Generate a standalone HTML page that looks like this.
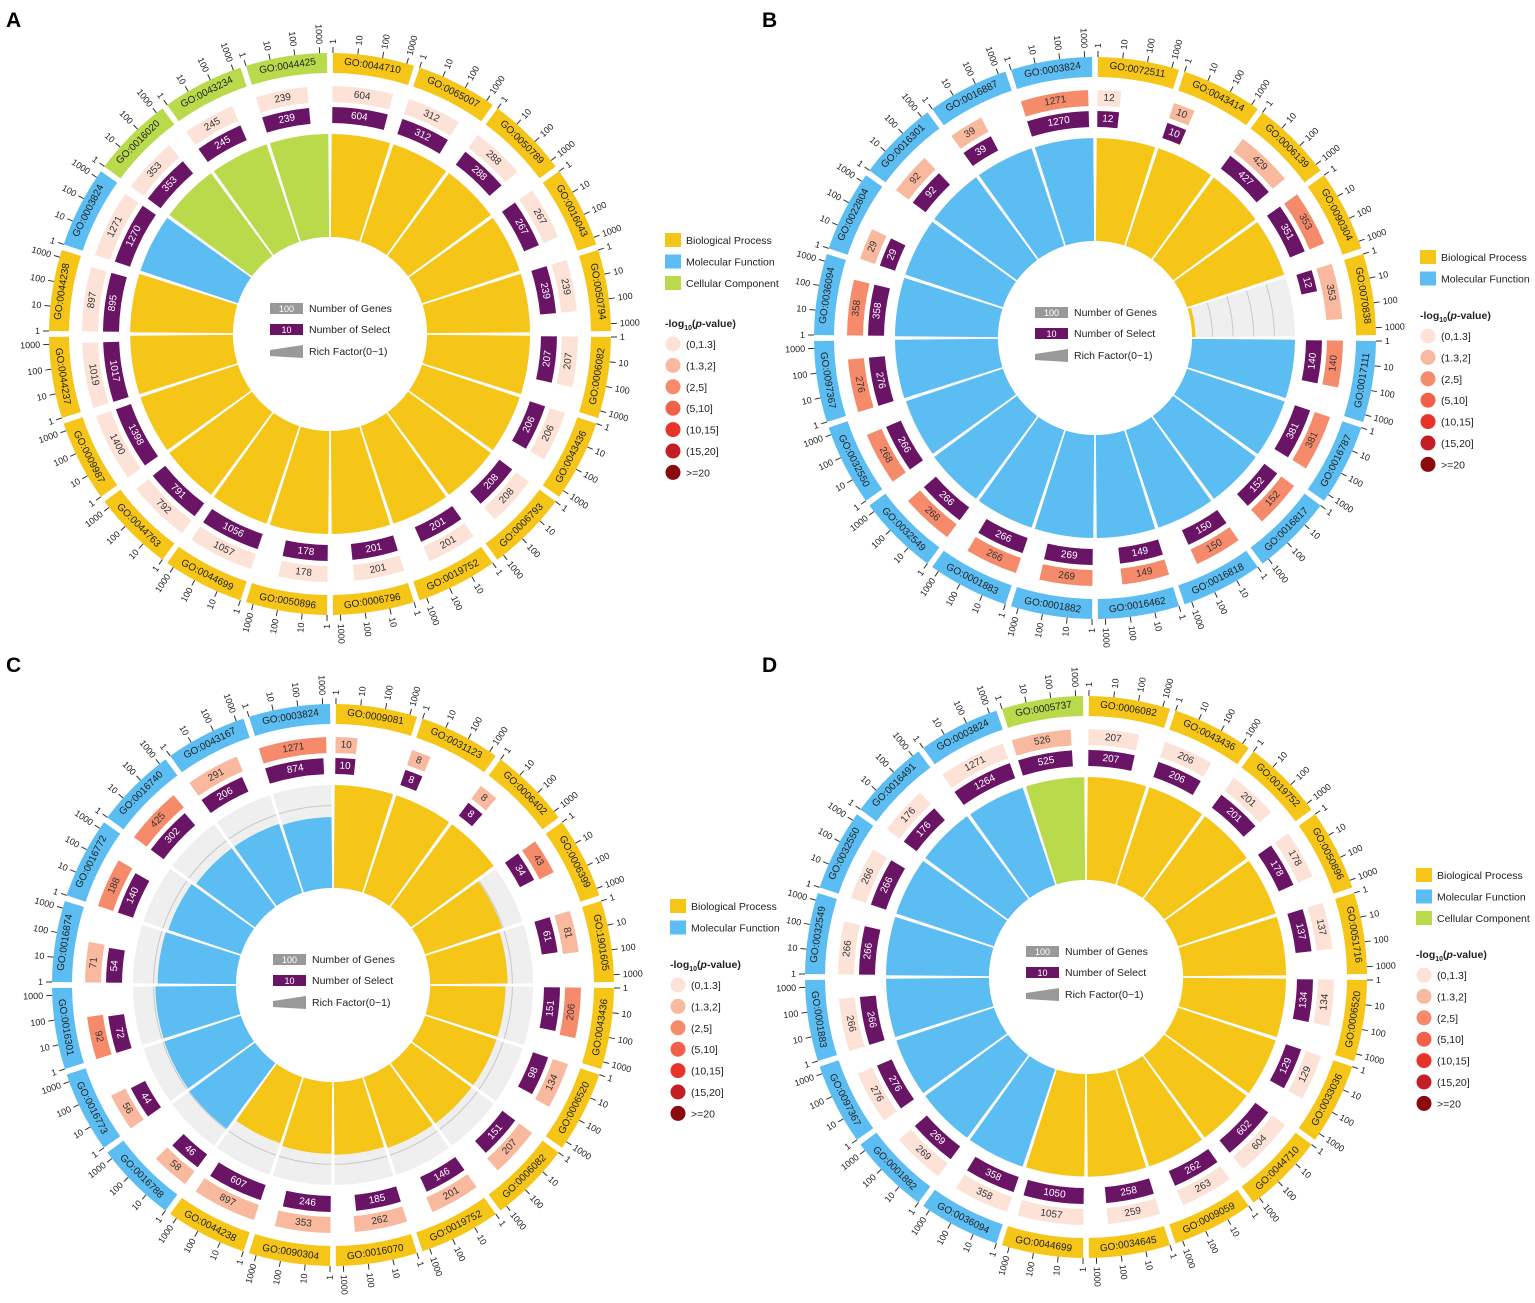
<!DOCTYPE html>
<html><head><meta charset="utf-8"><style>
body{margin:0;background:#fff}
svg{display:block;font-family:"Liberation Sans",Arial,sans-serif}
</style></head><body>
<svg id="fig" width="1535" height="1303" viewBox="0 0 1535 1303" xmlns="http://www.w3.org/2000/svg">
<text x="6" y="27" font-size="21" font-weight="bold">A</text>
<text x="762" y="27" font-size="21" font-weight="bold">B</text>
<text x="6" y="672" font-size="21" font-weight="bold">C</text>
<text x="762" y="672" font-size="21" font-weight="bold">D</text>
</svg>
<script>
const catsA=["GO:0044710","GO:0065007","GO:0050789","GO:0016043","GO:0050794","GO:0006082","GO:0043436","GO:0006793","GO:0019752","GO:0006796","GO:0050896","GO:0044699","GO:0044763","GO:0009987","GO:0044237","GO:0044238","GO:0003824","GO:0016020","GO:0043234","GO:0044425"];
const typesA=["BP","BP","BP","BP","BP","BP","BP","BP","BP","BP","BP","BP","BP","BP","BP","BP","MF","CC","CC","CC"];
const genesA=[604,312,288,267,239,207,206,208,201,201,178,1057,792,1400,1019,897,1271,353,245,239];
const selA=[604,312,288,267,239,207,206,208,201,201,178,1056,791,1398,1017,895,1270,353,245,239];
const pA=[0,0,0,0,0,0,0,0,0,0,0,0,0,0,0,0,0,0,0,0];

const catsB=["GO:0072511","GO:0043414","GO:0006139","GO:0090304","GO:0070838","GO:0017111","GO:0016787","GO:0016817","GO:0016818","GO:0016462","GO:0001882","GO:0001883","GO:0032549","GO:0032550","GO:0097367","GO:0036094","GO:0022804","GO:0016301","GO:0016887","GO:0003824"];
const typesB=["BP","BP","BP","BP","BP","MF","MF","MF","MF","MF","MF","MF","MF","MF","MF","MF","MF","MF","MF","MF"];
const genesB=[12,10,429,353,353,140,381,152,150,149,269,266,266,268,276,358,29,92,39,1271];
const selB=[12,10,427,351,12,140,381,152,150,149,269,266,266,266,276,358,29,92,39,1270];
const pB=[0,1,1,2,1,2,2,2,2,2,2,2,2,2,2,2,1,1,1,2];

const catsC=["GO:0009081","GO:0031123","GO:0006402","GO:0006399","GO:1901605","GO:0043436","GO:0006520","GO:0006082","GO:0019752","GO:0016070","GO:0090304","GO:0044238","GO:0016788","GO:0016773","GO:0016301","GO:0016874","GO:0016772","GO:0016740","GO:0043167","GO:0003824"];
const typesC=["BP","BP","BP","BP","BP","BP","BP","BP","BP","BP","BP","BP","MF","MF","MF","MF","MF","MF","MF","MF"];
const genesC=[10,8,8,43,81,206,134,207,201,262,353,897,58,56,92,71,188,425,291,1271];
const selC=[10,8,8,34,61,151,98,151,146,185,246,607,46,44,72,54,140,302,206,874];
const pC=[1,1,1,2,1,2,1,1,1,1,1,1,1,1,2,1,2,2,1,2];

const catsD=["GO:0006082","GO:0043436","GO:0019752","GO:0050896","GO:0051716","GO:0006520","GO:0033036","GO:0044710","GO:0009059","GO:0034645","GO:0044699","GO:0036094","GO:0001882","GO:0097367","GO:0001883","GO:0032549","GO:0032550","GO:0016491","GO:0003824","GO:0005737"];
const typesD=["BP","BP","BP","BP","BP","BP","BP","BP","BP","BP","BP","MF","MF","MF","MF","MF","MF","MF","MF","CC"];
const genesD=[207,206,201,178,137,134,129,604,263,259,1057,358,269,276,266,266,266,176,1271,526];
const selD=[207,206,201,178,137,134,129,602,262,258,1050,358,269,276,266,266,266,176,1264,525];
const pD=[0,0,0,0,0,0,0,0,0,0,0,0,0,0,0,0,0,0,0,1];

const tickVals=[1,10,100,1000];
const legendLevels=["(0,1.3]","(1.3,2]","(2,5]","(5,10]","(10,15]","(15,20]",">=20"];
const NS="http://www.w3.org/2000/svg";
const svg=document.getElementById('fig');
const TYPECOL={BP:"#f5c518",MF:"#5bbdf2",CC:"#b9da4b"};
const TYPENAME={BP:"Biological Process",MF:"Molecular Function",CC:"Cellular Component"};
const PCOL=["#fde2d8","#f9b99f","#f68b6c","#f3604a","#e8332a","#c41e24","#8a0a0f"];
const PURPLE="#6a1466";
const LOGMAX=3.3;

function el(tag,attrs,parent){const e=document.createElementNS(NS,tag);for(const k in attrs)e.setAttribute(k,attrs[k]);(parent||svg).appendChild(e);return e;}
function pt(cx,cy,r,a){const t=a*Math.PI/180;return [cx+r*Math.sin(t),cy-r*Math.cos(t)];}
function arcPath(cx,cy,r0,r1,a0,a1){
  const p1=pt(cx,cy,r1,a0),p2=pt(cx,cy,r1,a1),p3=pt(cx,cy,r0,a1),p4=pt(cx,cy,r0,a0);
  const lg=(a1-a0)>180?1:0;
  return `M${p1[0]},${p1[1]}A${r1},${r1} 0 ${lg} 1 ${p2[0]},${p2[1]}L${p3[0]},${p3[1]}A${r0},${r0} 0 ${lg} 0 ${p4[0]},${p4[1]}Z`;
}
function tanRot(a){a=((a%360)+360)%360;return (a<90||a>270)?a:a-180;}
function logFrac(v){return Math.max(Math.log10(v),0.3)/LOGMAX;}

function panel(key,cx,cy,cats,types,genes,sel,plev){
  const g=el('g',{});
  
  
  const n=cats.length,step=360/n;
  const R={bandIn:261,bandOut:281,pIn:232,pOut:248,uIn:211,uOut:227,wIn:97,wOut:200};
  for(let i=0;i<n;i++){
    const a0=i*step,a1=(i+1)*step;
    const b=el('path',{d:arcPath(cx,cy,R.bandIn,R.bandOut,a0+0.6,a1-0.6),fill:TYPECOL[types[i]]},g);
    
    
    const am=(a0+a1)/2,lp=pt(cx,cy,(R.bandIn+R.bandOut)/2,am);
    const lt=el('text',{x:lp[0],y:lp[1],'font-size':10,'text-anchor':'middle','dominant-baseline':'central',fill:'#222',transform:`rotate(${tanRot(am)} ${lp[0]} ${lp[1]})`},g);
    lt.textContent=cats[i];
    
    
    const span=a1-a0-1.2;
    tickVals.forEach(v=>{
      const ta=a0+0.6+span*Math.log10(v)/LOGMAX;
      const q0=pt(cx,cy,R.bandOut,ta),q1=pt(cx,cy,R.bandOut+6,ta);
      const tl=el('line',{x1:q0[0],y1:q0[1],x2:q1[0],y2:q1[1],stroke:'#333','stroke-width':1},g);
      
      
      const q2=pt(cx,cy,R.bandOut+9,ta);
      const aa=((ta%360)+360)%360;
      let rot,anchor;
      if(aa<=180){rot=aa-90;anchor='start';}else{rot=aa+90;anchor='end';}
      const tx=el('text',{x:q2[0],y:q2[1],'font-size':9,'text-anchor':anchor,'dominant-baseline':'central',fill:'#222',transform:`rotate(${rot} ${q2[0]} ${q2[1]})`},g);
      tx.textContent=String(v);
      
      
    });
    const ga1=a0+0.6+span*logFrac(genes[i]);
    const pb=el('path',{d:arcPath(cx,cy,R.pIn,R.pOut,a0+0.6,ga1),fill:PCOL[plev[i]]},g);
    
    
    let mp=pt(cx,cy,(R.pIn+R.pOut)/2,(a0+0.6+ga1)/2);
    let t=el('text',{x:mp[0],y:mp[1],'font-size':10,'text-anchor':'middle','dominant-baseline':'central',fill:'#333',transform:`rotate(${tanRot((a0+0.6+ga1)/2)} ${mp[0]} ${mp[1]})`},g);
    t.textContent=genes[i];
    
    
    const sa1=a0+0.6+span*logFrac(sel[i]);
    const ub=el('path',{d:arcPath(cx,cy,R.uIn,R.uOut,a0+0.6,sa1),fill:PURPLE},g);
    
    
    mp=pt(cx,cy,(R.uIn+R.uOut)/2,(a0+0.6+sa1)/2);
    t=el('text',{x:mp[0],y:mp[1],'font-size':10,'text-anchor':'middle','dominant-baseline':'central',fill:'#fff',transform:`rotate(${tanRot((a0+0.6+sa1)/2)} ${mp[0]} ${mp[1]})`},g);
    t.textContent=sel[i];
    
    
    const bg=el('path',{d:arcPath(cx,cy,R.wIn,R.wOut,a0+0.5,a1-0.5),fill:'#efefef'},g);
    
    
    [0.2,0.4,0.6,0.8].forEach(f=>{
      const rr=R.wIn+f*(R.wOut-R.wIn),s0=pt(cx,cy,rr,a0+0.5),s1=pt(cx,cy,rr,a1-0.5);
      const gl=el('path',{d:`M${s0[0]},${s0[1]}A${rr},${rr} 0 0 1 ${s1[0]},${s1[1]}`,fill:'none',stroke:'#c8c8c8','stroke-width':1},g);
      
      
    });
    const rf=Math.min(1,sel[i]/genes[i]);
    const w=el('path',{d:arcPath(cx,cy,R.wIn,R.wIn+rf*(R.wOut-R.wIn),a0+0.5,a1-0.5),fill:TYPECOL[types[i]]},g);
    
    
  }
  const c=el('circle',{cx:cx,cy:cy,r:R.wIn,fill:'#fff'},g);
  
  
  const lx=cx-60,ly=cy-26;
  let r1=el('rect',{x:lx,y:ly-5,width:33,height:11,fill:'#999'},g);
  
  let t1=el('text',{x:lx+16.5,y:ly+4,'font-size':9,'text-anchor':'middle',fill:'#fff'},g);t1.textContent='100';
  
  let t2=el('text',{x:lx+39,y:ly+4,'font-size':10.5,fill:'#222'},g);t2.textContent='Number of Genes';
  
  let r2=el('rect',{x:lx,y:ly+16,width:33,height:11,fill:PURPLE},g);
  
  let t3=el('text',{x:lx+16.5,y:ly+25,'font-size':9,'text-anchor':'middle',fill:'#fff'},g);t3.textContent='10';
  
  let t4=el('text',{x:lx+39,y:ly+25,'font-size':10.5,fill:'#222'},g);t4.textContent='Number of Select';
  
  let p3=el('path',{d:`M${lx},${ly+42}L${lx+33},${ly+37}L${lx+33},${ly+50}L${lx},${ly+48}Z`,fill:'#999'},g);
  
  let t5=el('text',{x:lx+39,y:ly+47,'font-size':10.5,fill:'#222'},g);t5.textContent='Rich Factor(0~1)';
  
}

function legend(key,x,y,types,titleY){
  const g=el('g',{});
  
  
  const uniq=[...new Set(types)];
  uniq.forEach((tp,i)=>{
    const r=el('rect',{x:x,y:y+i*21.5-7,width:16,height:14,fill:TYPECOL[tp]},g);
    
    
    const t=el('text',{x:x+21,y:y+i*21.5+4,'font-size':10.5,fill:'#222'},g);
    t.textContent=TYPENAME[tp];
    
    
  });
  const tt=el('text',{x:x,y:titleY+4,'font-size':10.5,'font-weight':'bold',fill:'#222'},g);
  tt.innerHTML='-log<tspan font-size="7" dy="3">10</tspan><tspan dy="-3">(</tspan><tspan font-style="italic">p</tspan>-value)';
  
  
  legendLevels.forEach((lab,i)=>{
    const cy=titleY+21+i*21.4;
    const c=el('circle',{cx:x+8,cy:cy,r:7.5,fill:PCOL[i]},g);
    
    
    const t=el('text',{x:x+21,y:cy+4,'font-size':10.5,fill:'#222'},g);
    t.textContent=lab;
    
    
  });
}

panel('a',330,334,catsA,typesA,genesA,selA,pA);
panel('b',1095,338,catsB,typesB,genesB,selB,pB);
panel('c',333,985,catsC,typesC,genesC,selC,pC);
panel('d',1086,977,catsD,typesD,genesD,selD,pD);
legend('a',665,240,typesA,323);
legend('b',1420,257,typesB,315);
legend('c',670,906,typesC,964);
legend('d',1416,875,typesD,954);
</script>
</body></html>
